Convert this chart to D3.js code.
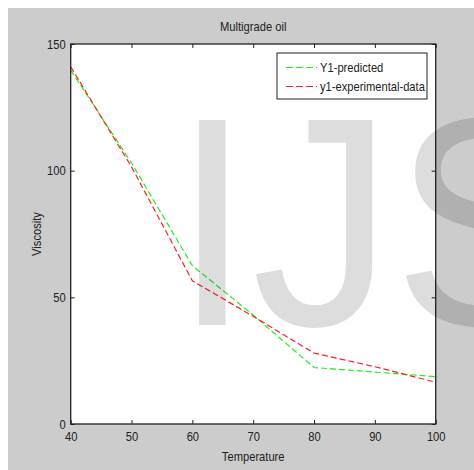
<!DOCTYPE html>
<html>
<head>
<meta charset="utf-8">
<script src="https://cdn.jsdelivr.net/npm/d3@7"></script>
<style>
  body { margin: 0; background: #fff; }
  text { font-family: "Liberation Sans", Arial, sans-serif; }
</style>
</head>
<body>
<svg id="chart"></svg>
<script>
const temperature = [40, 50, 60, 70, 80, 90, 100];
const predicted = [139.7, 103, 62.5, 43, 22.3, 20.5, 18.7];
const experimental = [141, 101.5, 56.5, 42.5, 28, 22.6, 16.5];
const xTicks = [40, 50, 60, 70, 80, 90, 100];
const yTicks = [0, 50, 100, 150];
const seriesNames = ["Y1-predicted", "y1-experimental-data"];

// matlab's helvetica renders narrow, so squeeze the text horizontally
const squeeze = 0.86;

function label(svg, x, y, str, size, anchor, rotate) {
  return svg.append("text")
    .attr("transform", `translate(${x},${y})${rotate ? " rotate(-90)" : ""} scale(${squeeze},1)`)
    .attr("text-anchor", anchor)
    .style("font-size", size + "px")
    .attr("fill", "#222")
    .text(str);
}

function init() {
  const width = 474,
    height = 470;
  const left = 70.7,
    right = 435.7,
    top = 44,
    bottom = 424;

  const svg = d3.select("#chart").attr("width", width).attr("height", height);

  // figure background
  svg.append("rect")
    .attr("x", 8).attr("y", 8)
    .attr("width", width - 8).attr("height", height - 8)
    .attr("fill", "#cccccc");

  svg.append("rect")
    .attr("x", left).attr("y", top)
    .attr("width", right - left).attr("height", bottom - top)
    .attr("fill", "#fff");

  const x = d3.scaleLinear().domain([40, 100]).range([left, right]);
  const y = d3.scaleLinear().domain([0, 150]).range([bottom, top]);

  const line = d3.line()
    .x((d) => x(d[0]))
    .y((d) => y(d[1]));

  const series = [
    { name: seriesNames[0], color: "#22ee22", values: predicted },
    { name: seriesNames[1], color: "#ff2020", values: experimental },
  ];

  svg.selectAll("path.series")
    .data(series)
    .join("path")
    .attr("class", "series")
    .attr("d", (s) => line(temperature.map((t, i) => [t, s.values[i]])))
    .attr("fill", "none")
    .attr("stroke", (s) => s.color)
    .attr("stroke-width", 1.2)
    .attr("stroke-dasharray", "6,3");

  // axes with inward ticks on all four sides
  const fmt = d3.format("d");
  const axB = svg.append("g").attr("transform", `translate(0,${bottom})`)
    .call(d3.axisBottom(x).tickValues(xTicks).tickSizeInner(-4).tickSizeOuter(0).tickPadding(8).tickFormat(fmt));
  const axT = svg.append("g").attr("transform", `translate(0,${top})`)
    .call(d3.axisTop(x).tickValues(xTicks).tickSizeInner(-4).tickSizeOuter(0).tickFormat(""));
  const axL = svg.append("g").attr("transform", `translate(${left},0)`)
    .call(d3.axisLeft(y).tickValues(yTicks).tickSizeInner(-4).tickSizeOuter(0).tickPadding(8).tickFormat(fmt));
  const axR = svg.append("g").attr("transform", `translate(${right},0)`)
    .call(d3.axisRight(y).tickValues(yTicks).tickSizeInner(-4).tickSizeOuter(0).tickFormat(""));

  [axB, axT, axL, axR].forEach((g) => {
    g.select(".domain").remove();
    g.selectAll("line").attr("stroke", "#222");
    g.selectAll("text").attr("fill", "#222").style("font-size", "13px");
  });
  axB.selectAll("text").attr("dy", "0.71em").attr("transform", `scale(${squeeze},1)`);
  axL.selectAll("text").attr("x", -5 / squeeze).attr("transform", `scale(${squeeze},1)`);

  svg.append("rect")
    .attr("x", left).attr("y", top)
    .attr("width", right - left).attr("height", bottom - top)
    .attr("fill", "none")
    .attr("stroke", "#222")
    .attr("stroke-width", 1.3);

  // title and axis labels
  label(svg, (left + right) / 2, 31, "Multigrade oil", 13, "middle", false);
  label(svg, (left + right) / 2, 461, "Temperature", 13, "middle", false);
  label(svg, 41, (top + bottom) / 2, "Viscosity", 13, "middle", true);

  // legend
  const legend = svg.append("g").attr("transform", "translate(277,53)");
  legend.append("rect")
    .attr("width", 150).attr("height", 46)
    .attr("fill", "#fff")
    .attr("stroke", "#222")
    .attr("stroke-width", 1);

  const rows = legend.selectAll("g.row")
    .data(series)
    .join("g")
    .attr("class", "row")
    .attr("transform", (d, i) => `translate(0,${14.5 + i * 19})`);

  rows.append("line")
    .attr("x1", 9).attr("x2", 40)
    .attr("stroke", (d) => d.color)
    .attr("stroke-width", 1.2)
    .attr("stroke-dasharray", "7,3");

  rows.append("text")
    .attr("transform", `translate(43,0) scale(${squeeze},1)`)
    .attr("dy", "0.35em")
    .style("font-size", "13px")
    .attr("fill", "#222")
    .text((d) => d.name);

  // watermark overlay
  svg.append("text")
    .attr("transform", "translate(173,325) scale(0.95,1)")
    .style("font-size", "298px")
    .attr("fill", "#000")
    .attr("fill-opacity", 0.135)
    .text("IJS");
}

init();
</script>
</body>
</html>
